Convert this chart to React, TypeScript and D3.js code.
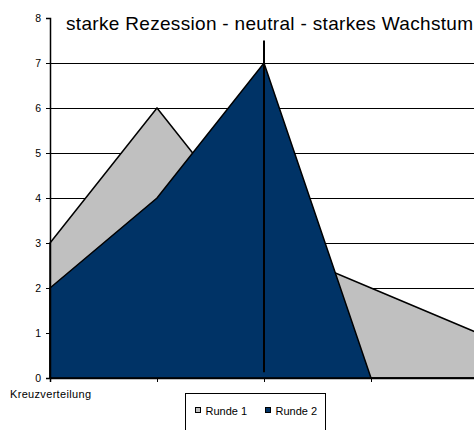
import { useEffect, useRef } from "react";
import * as d3 from "d3";

const categories = ["a", "b", "c", "d", "e"];
const runde1 = [3, 6, 3, 2, 1];
const runde2 = [2, 4, 7, 0, 0];
const yTicks = [0, 1, 2, 3, 4, 5, 6, 7, 8];
const seriesNames = ["Runde 1", "Runde 2"];
const seriesColors = ["#c0c0c0", "#003366"];
const markerIndex = 2;
const markerRange = [0.13, 7.5];

const W = 474;
const H = 430;
const M = { top: 18, right: -4, bottom: 52, left: 50 };
const FONT = "Liberation Sans, Arial, sans-serif";

export default function App() {
  const svgRef = useRef<SVGSVGElement>(null);

  useEffect(() => {
    if (!svgRef.current) return;
    const root = d3.select(svgRef.current);
    root.selectAll("*").remove();

    const innerW = W - M.left - M.right;
    const innerH = H - M.top - M.bottom;

    const x = d3.scalePoint<number>().domain(d3.range(categories.length)).range([0, innerW]);
    const y = d3.scaleLinear().domain([0, 8]).range([innerH, 0]);

    const g = root.append("g").attr("transform", `translate(${M.left},${M.top})`);

    // gridlines (half-pixel offset keeps them crisp)
    g.selectAll("line.grid")
      .data(yTicks.filter((t) => t > 0 && t < 8))
      .join("line")
      .attr("x1", 0)
      .attr("x2", innerW)
      .attr("y1", (d) => y(d) + 0.5)
      .attr("y2", (d) => y(d) + 0.5)
      .attr("stroke", "#000")
      .attr("stroke-width", 1.2);

    const area = d3
      .area<number>()
      .x((_, i) => x(i)!)
      .y0(y(0))
      .y1((d) => y(d));

    [runde1, runde2].forEach((s, i) => {
      g.append("path")
        .datum(s)
        .attr("d", area)
        .attr("fill", seriesColors[i])
        .attr("stroke", "#000")
        .attr("stroke-width", 1.5)
        .attr("stroke-linejoin", "miter");
    });

    // marker line
    g.append("line")
      .attr("x1", x(markerIndex)!)
      .attr("x2", x(markerIndex)!)
      .attr("y1", y(markerRange[1]))
      .attr("y2", y(markerRange[0]))
      .attr("stroke", "#000")
      .attr("stroke-width", 2);

    // y axis
    g.append("g")
      .call(d3.axisLeft(y).tickValues(yTicks).tickSize(4).tickPadding(5).tickFormat(d3.format("d")))
      .call((a) => a.select(".domain").attr("stroke", "#000").attr("stroke-width", 1.5))
      .call((a) => a.selectAll("line").attr("stroke", "#000"))
      .call((a) => a.selectAll("text").attr("fill", "#000").attr("font-size", 10.5).attr("font-family", FONT));

    // x axis
    g.append("g")
      .attr("transform", `translate(0,${innerH})`)
      .call(d3.axisBottom(x).tickSize(4).tickFormat(() => ""))
      .call((a) => a.select(".domain").attr("stroke", "#000").attr("stroke-width", 1.5))
      .call((a) => a.selectAll("line").attr("stroke", "#000"));

    root
      .append("text")
      .attr("x", 10)
      .attr("y", 398)
      .attr("font-size", 11)
      .attr("font-family", FONT)
      .attr("textLength", 81)
      .text("Kreuzverteilung");

    root
      .append("text")
      .attr("x", 66)
      .attr("y", 30)
      .attr("font-size", 19)
      .attr("font-family", FONT)
      .attr("textLength", 407)
      .text("starke Rezession - neutral - starkes Wachstum");

    // legend
    const lg = root.append("g").attr("transform", "translate(185.5,393.5)");
    lg.append("rect").attr("width", 140).attr("height", 40).attr("fill", "#fff").attr("stroke", "#000").attr("stroke-width", 1);
    const itemX = [10, 80];
    seriesNames.forEach((n, i) => {
      lg.append("rect")
        .attr("x", itemX[i])
        .attr("y", 14)
        .attr("width", 5)
        .attr("height", 5)
        .attr("fill", seriesColors[i])
        .attr("stroke", "#000")
        .attr("stroke-width", 1);
      lg.append("text")
        .attr("x", itemX[i] + 10)
        .attr("y", 21)
        .attr("font-size", 11)
        .attr("font-family", FONT)
        .text(n);
    });
  }, []);

  return (
    <svg
      ref={svgRef}
      width={W}
      height={H}
      viewBox={`0 0 ${W} ${H}`}
      style={{ position: "absolute", left: 0, top: 0, background: "#fff" }}
    />
  );
}
